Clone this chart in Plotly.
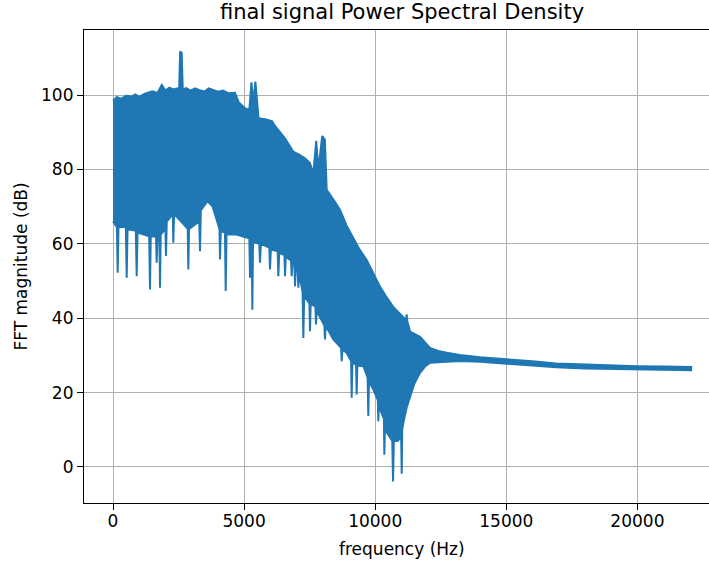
import plotly.graph_objects as go

# ---- data (upper / lower envelope of the dense PSD trace) ----
upper_freq_hz = [0, 150, 300, 500, 700, 850, 1000, 1220, 1500, 1700, 1860, 2000, 2150, 2300, 2450, 2520,
                 2560, 2620, 2660, 2800, 2950, 3130, 3300, 3500, 3650, 3800, 4000, 4200, 4400, 4650,
                 4800, 5030, 5200, 5280, 5350, 5430, 5500, 5550, 5800, 6060, 6200, 6360, 6560, 6870,
                 7100, 7320, 7510, 7640, 7750, 7830, 7980, 8080, 8150, 8400, 8660, 8900, 9150, 9400,
                 9680, 9900, 10180, 10400, 10680, 10900, 11050, 11180, 11200, 11230, 11330, 11500,
                 11710, 12090, 12400, 12730, 13230, 14000, 15000, 16000, 16900, 18000, 18800, 20000,
                 21000, 22050]
upper_db = [98.5, 99.5, 99.0, 99.8, 99.6, 100.2, 99.5, 100.4, 101.0, 100.6, 102.7, 101.2, 102.0, 101.5,
            101.8, 101.0, 111.7, 111.4, 101.5, 101.9, 101.2, 101.8, 101.3, 101.0, 101.8, 101.5, 100.9,
            101.2, 100.5, 100.6, 98.0, 96.5, 96.0, 103.4, 98.0, 103.6, 98.0, 93.8, 93.5, 93.0, 91.5,
            90.2, 88.4, 84.8, 84.0, 83.0, 81.7, 78.8, 87.7, 80.0, 89.0, 88.0, 74.5, 72.0, 69.1, 65.0,
            61.9, 58.5, 55.6, 52.5, 48.5, 46.0, 43.1, 41.5, 40.5, 39.5, 41.0, 39.0, 36.4, 35.8, 35.0,
            32.0, 31.2, 30.7, 30.1, 29.5, 29.0, 28.4, 27.8, 27.5, 27.3, 27.1, 27.0, 26.9]

lower_freq_hz = [0, 150, 178, 210, 490, 522, 555, 870, 903, 935, 1380, 1411, 1440, 1640, 1666, 1700,
                 1770, 1793, 1820, 2000, 2021, 2050, 2280, 2301, 2330, 2600, 2850, 2873, 2900, 3290,
                 3318, 3350, 3600, 3800, 4060, 4081, 4110, 4270, 4298, 4330, 4700, 5200, 5225, 5260,
                 5290, 5314, 5340, 5580, 5606, 5640, 5960, 5988, 6020, 6280, 6305, 6340, 6540, 6560,
                 6590, 6790, 6815, 6840, 6920, 6941, 6970, 7040, 7068, 7100, 7230, 7259, 7290, 7490,
                 7513, 7540, 7720, 7742, 7770, 8060, 8085, 8110, 8400, 8700, 8722, 8750, 8910, 9080,
                 9103, 9130, 9270, 9293, 9320, 9550, 9710, 9737, 9760, 9930, 10100, 10118, 10140,
                 10183, 10330, 10348, 10370, 10560, 10650, 10680, 10710, 10850, 10990, 11011, 11030,
                 11072, 11200, 11327, 11500, 11709, 11900, 12090, 12853, 13230, 14000, 15000, 16000,
                 16900, 18000, 18800, 20000, 21000, 22050]
lower_db = [66.0, 64.5, 52.2, 64.5, 64.5, 50.9, 64.0, 63.5, 51.3, 63.0, 62.0, 47.7, 62.0, 62.0, 54.9,
            62.0, 62.0, 48.2, 62.5, 64.0, 56.7, 66.0, 68.0, 60.3, 68.0, 66.0, 64.0, 53.1, 64.0, 66.0,
            58.0, 69.0, 71.5, 70.0, 64.0, 55.8, 63.5, 63.0, 47.3, 62.5, 62.5, 61.5, 50.9, 61.0, 61.0,
            42.3, 60.5, 60.0, 54.9, 60.0, 59.0, 53.1, 58.5, 58.0, 51.3, 57.5, 57.0, 51.3, 56.5, 55.5,
            51.3, 55.0, 54.0, 48.6, 54.0, 53.0, 48.2, 52.0, 47.0, 34.7, 46.0, 44.0, 36.5, 44.0, 43.0,
            38.3, 42.0, 38.0, 34.3, 38.0, 34.3, 32.0, 28.4, 31.5, 30.7, 28.5, 18.6, 28.0, 27.5, 19.5,
            27.3, 27.1, 24.0, 13.7, 23.0, 20.8, 18.0, 12.3, 17.0, 15.5, 13.0, 3.3, 10.0, 8.0, 7.0,
            -3.9, 7.0, 7.0, 8.0, -1.8, 10.0, 11.8, 16.0, 19.0, 22.5, 25.3, 27.0, 28.0, 28.4, 28.5,
            28.3, 27.9, 27.3, 26.8, 26.5, 26.3, 26.2, 26.1, 26.0]

x_ticks = [0, 5000, 10000, 15000, 20000]
x_tick_labels = ["0", "5000", "10000", "15000", "20000"]
y_ticks = [0, 20, 40, 60, 80, 100]
y_tick_labels = ["0", "20", "40", "60", "80", "100"]

BLUE = "#1f77b4"
FONT = "DejaVu Sans"

poly_x = upper_freq_hz + lower_freq_hz[::-1]
poly_y = upper_db + lower_db[::-1]

fig = go.Figure()
fig.add_trace(go.Scatter(
    x=poly_x, y=poly_y, mode="lines", fill="toself", fillcolor=BLUE,
    line=dict(color=BLUE, width=2), hoverinfo="skip", showlegend=False))

axis_common = dict(
    showline=True, linecolor="black", linewidth=1.2,
    ticks="outside", ticklen=6, tickwidth=1.2, tickcolor="black",
    showgrid=True, gridcolor="#b0b0b0", gridwidth=1.1, zeroline=False,
    automargin=False,
    tickfont=dict(family=FONT, size=17, color="black"),
)

fig.update_layout(
    width=709, height=564,
    margin=dict(l=84, r=0, t=30, b=61, pad=0, autoexpand=False),
    paper_bgcolor="white", plot_bgcolor="white",
    font=dict(family=FONT, size=17, color="black"),
    xaxis=dict(range=[-1106, 22730], tickvals=x_ticks, ticktext=x_tick_labels,
               mirror=True, ticklabelstandoff=-4, **axis_common),
    yaxis=dict(range=[-9.7, 117.5], tickvals=y_ticks, ticktext=y_tick_labels,
               mirror=False, **axis_common),
    annotations=[
        dict(text="final signal Power Spectral Density", xref="paper", yref="paper",
             x=0.5094, y=1 + 18 / 473, xanchor="center", yanchor="middle", showarrow=False,
             font=dict(family=FONT, size=21, color="black")),
        dict(text="frequency (Hz)", xref="paper", yref="paper",
             x=0.5094, y=-46 / 473, xanchor="center", yanchor="middle", showarrow=False,
             font=dict(family=FONT, size=17, color="black")),
        dict(text="FFT magnitude (dB)", xref="paper", yref="paper", textangle=-90,
             x=-64 / 625, y=0.5, xanchor="center", yanchor="middle", showarrow=False,
             font=dict(family=FONT, size=17, color="black")),
    ],
)

# remove the default 8px page margin so the figure sits at the window's top-left corner
fig.write_html("out.html", config={"displayModeBar": False},
               post_script="document.body.style.margin='0';")
